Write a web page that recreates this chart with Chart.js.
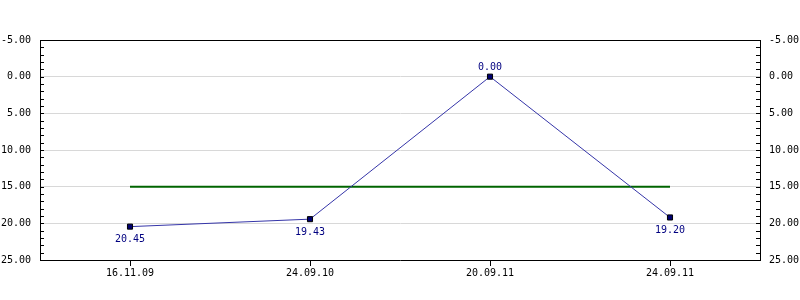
<!DOCTYPE html>
<html>
<head>
<meta charset="utf-8">
<script src="https://cdn.jsdelivr.net/npm/chart.js@4/dist/chart.umd.min.js"></script>
<style>
  body { margin: 0; background: #fff; }
  #wrap { width: 800px; height: 300px; }
</style>
</head>
<body>
<div id="wrap"><canvas id="chart"></canvas></div>
<script>
// dates along the bottom
var dates = ["16.11.09", "24.09.10", "20.09.11", "24.09.11"];
// measured values (blue line)
var values = [20.45, 19.43, 0.00, 19.20];
// reference level (green line)
var target = [15, 15, 15, 15];
// y axis range and step
var yMin = -5, yMax = 25, yStep = 5, yMinorStep = 1;

var FONT = "'DejaVu Sans Mono', monospace";

// draws the black frame, the small inward ticks and the value labels
var extras = {
  id: 'extras',
  afterDraw: function (chart) {
    var ctx = chart.ctx;
    var a = chart.chartArea;
    var y = chart.scales.y;
    ctx.save();
    ctx.strokeStyle = '#000';
    ctx.lineWidth = 1;
    ctx.beginPath();
    ctx.moveTo(a.left, a.top + 0.5);
    ctx.lineTo(a.right, a.top + 0.5);
    ctx.stroke();
    // minor + major ticks pointing into the plot
    for (var v = yMin; v <= yMax; v += yMinorStep) {
      var py = Math.round(y.getPixelForValue(v)) + 0.5;
      ctx.beginPath();
      ctx.moveTo(a.left, py);
      ctx.lineTo(a.left + 4, py);
      ctx.moveTo(a.right, py);
      ctx.lineTo(a.right - 4, py);
      ctx.stroke();
    }
    // value labels, above a peak, below otherwise
    var meta = chart.getDatasetMeta(0);
    ctx.fillStyle = '#000080';
    ctx.font = '10px ' + FONT;
    ctx.textAlign = 'center';
    ctx.textBaseline = 'middle';
    meta.data.forEach(function (pt, i) {
      var prev = i > 0 ? values[i - 1] : Infinity;
      var next = i < values.length - 1 ? values[i + 1] : Infinity;
      var peak = values[i] < prev && values[i] < next;
      var ty = peak ? pt.y - 9.5 : pt.y + 13;
      ctx.fillText(values[i].toFixed(2), pt.x, ty);
    });
    ctx.restore();
  }
};

var yTicks = {
  stepSize: yStep,
  color: '#000',
  font: { family: FONT, size: 10 },
  padding: 9,
  callback: function (v) { return Number(v).toFixed(2); }
};

var ctx = document.getElementById('chart').getContext('2d');
var chart = new Chart(ctx, {
  type: 'line',
  data: {
    labels: dates,
    datasets: [
      {
        data: values,
        borderColor: '#3535a8',
        borderWidth: 1,
        tension: 0,
        pointStyle: 'rect',
        pointRadius: 3.6,
        pointBackgroundColor: '#000070',
        pointBorderColor: '#000',
        pointBorderWidth: 1,
        order: 0
      },
      {
        data: target,
        borderColor: '#006400',
        borderWidth: 2,
        pointRadius: 0,
        tension: 0,
        order: 1
      }
    ]
  },
  options: {
    responsive: true,
    maintainAspectRatio: false,
    animation: false,
    layout: { padding: { top: 40, left: 0, right: 0, bottom: 0 } },
    plugins: { legend: { display: false }, tooltip: { enabled: false } },
    scales: {
      x: {
        offset: true,
        grid: { display: true, drawOnChartArea: false, tickLength: 6, color: '#000' },
        border: { color: '#000' },
        ticks: { color: '#000', font: { family: FONT, size: 10 }, padding: 1, maxRotation: 0 },
        afterFit: function (s) { s.height = 40; }
      },
      y: {
        position: 'left',
        reverse: true,
        min: yMin,
        max: yMax,
        grid: { color: '#d8d8d8', drawTicks: false },
        border: { color: '#000' },
        ticks: yTicks,
        afterFit: function (s) { s.width = 40; }
      },
      y2: {
        position: 'right',
        reverse: true,
        min: yMin,
        max: yMax,
        grid: { drawOnChartArea: false, drawTicks: false },
        border: { color: '#000' },
        ticks: yTicks,
        afterFit: function (s) { s.width = 40; }
      }
    }
  },
  plugins: [extras]
});
</script>
</body>
</html>
